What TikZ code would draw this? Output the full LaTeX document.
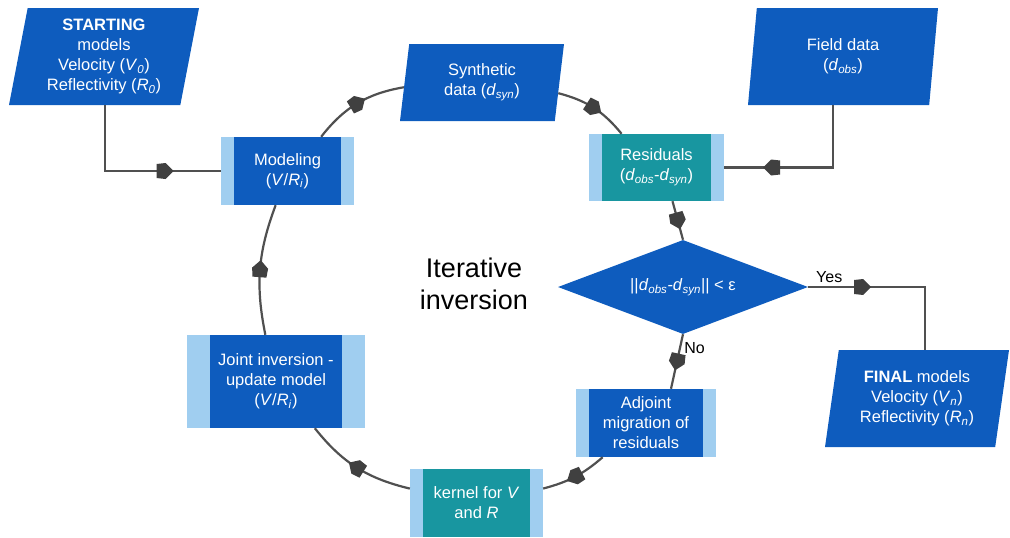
\documentclass[tikz,border=0pt]{standalone}
\usepackage{fontspec}
\setmainfont{Liberation Sans}
\usetikzlibrary{shapes.geometric,decorations.markings}
\definecolor{boxblue}{RGB}{14,92,190}
\definecolor{stripblue}{RGB}{160,206,240}
\definecolor{boxteal}{RGB}{24,150,160}
\definecolor{linegray}{RGB}{80,80,80}
\definecolor{tipgray}{RGB}{64,64,64}
\newcommand{\dobs}{\textit{d}\textsubscript{\textit{obs}}}
\newcommand{\dsyn}{\textit{d}\textsubscript{\textit{syn}}}
\newcommand{\vri}{(\textit{V}/\textit{R}\textsubscript{\textit{i}})}
\newcommand{\housetip}{\fill[tipgray] (-8pt,-7pt) -- (1pt,-8pt) -- (9pt,0pt) -- (1pt,8pt) -- (-8pt,7pt) -- cycle;}
\tikzset{
  txt/.style={text=white, align=center, font=\fontsize{16.5}{20}\selectfont},
  para/.style={txt, trapezium, trapezium left angle=76, trapezium right angle=104, trapezium stretches body=true, fill=boxblue, inner sep=0pt},
  stripwd/.store in=\stripwd, stripwd=13pt,
  stripbox/.style={txt, fill=stripblue, inner sep=0pt, path picture={\fill[#1] ([xshift=\stripwd]path picture bounding box.south west) rectangle ([xshift=-\stripwd]path picture bounding box.north east);}},
  stripbox/.default=boxblue,
  link/.style={draw=linegray, line width=2.2pt},
  midtip/.style={postaction={decorate}, decoration={markings, mark=at position #1 with {\housetip}}},
  midtip/.default=0.5
}
\begin{document}
\begin{tikzpicture}[x=1pt, y=-1pt]
\useasboundingbox (0,0) rectangle (1010,538);
\node (ST) at (104,56.5) [para, minimum width=190pt, minimum height=97pt] {\textbf{STARTING}\\models\\Velocity (\textit{V}\textsubscript{\textit{0}})\\Reflectivity (\textit{R}\textsubscript{\textit{0}})};
\node (MO) at (287.5,171) [stripbox, minimum width=133pt, minimum height=68pt] {Modeling\\\vri};
\node (SY) at (482,82.5) [para, minimum width=164pt, minimum height=77pt] {Synthetic\\data (\dsyn)};
\node (FD) at (843,56.5) [para, minimum width=190pt, minimum height=97pt] {Field data\\(\dobs)};
\node (RE) at (656.5,167.5) [stripbox=boxteal, minimum width=135pt, minimum height=67pt] {Residuals\\(\dobs-\dsyn)};
\node (DC) at (683,287) [txt, diamond, aspect=2.66, fill=boxblue, inner sep=0pt, minimum width=250pt, minimum height=94pt] {||\dobs-\dsyn|| < ε};
\node (FI) at (917,398.5) [para, minimum width=184pt, minimum height=97pt] {\textbf{FINAL} models\\Velocity (\textit{V}\textsubscript{\textit{n}})\\Reflectivity (\textit{R}\textsubscript{\textit{n}})};
\node (AD) at (646,423) [stripbox, minimum width=140pt, minimum height=68pt] {Adjoint\\migration of\\residuals};
\node (KE) at (476.5,503) [stripbox=boxteal, minimum width=133pt, minimum height=68pt] {kernel for \textit{V}\\and \textit{R}};
\node (JI) at (276,381.5) [stripbox, stripwd=23pt, minimum width=178pt, minimum height=93pt] {Joint inversion -\\update model\\\vri};
\node (IT) at (474,284) [align=center, font=\fontsize{27}{32}\selectfont] {Iterative\\inversion};

\draw [link, midtip=0.69] ([xshift=1pt]ST.south) |- (MO.west);
\draw [link, midtip] (MO) to[bend left=21] (SY);
\draw [link, midtip] (SY) to[bend left=18] (RE);
\draw [link, midtip=0.72] ([xshift=-10pt]FD.south) |- (RE.east);
\draw [link, midtip] ([xshift=16pt]RE.south) -- (DC.north);
\draw [link, midtip=0.3] (DC.east) -| ([xshift=8pt]FI.north) node[pos=0.09, above, font=\fontsize{16}{19}\selectfont] {Yes};
\draw [link, midtip] (DC.south) -- ([xshift=25pt]AD.north) node[pos=0.25, right, font=\fontsize{16}{19}\selectfont] {No};
\draw [link, midtip] (AD) to[bend left=13] (KE);
\draw [link, midtip] (KE) to[bend left=19] (JI);
\draw [link, midtip] (JI) to[bend left=16] (MO);
\end{tikzpicture}
\end{document}
